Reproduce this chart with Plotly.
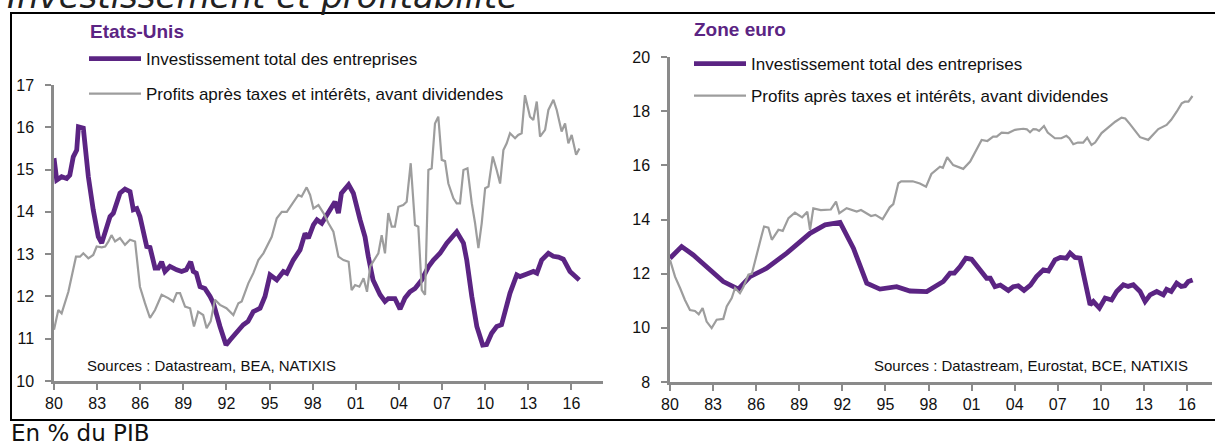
import plotly.graph_objects as go

W, H = 1215, 448

# ---------------- Data (en % du PIB) ----------------
us_inv_x = [1980.0, 1980.19, 1980.53, 1980.88, 1981.1, 1981.34, 1981.58, 1981.7, 1982.04, 1982.39,
            1982.73, 1983.08, 1983.32, 1983.67, 1983.9, 1984.13, 1984.59, 1984.94, 1985.29, 1985.52,
            1985.76, 1985.98, 1986.45, 1986.68, 1987.03, 1987.26, 1987.49, 1987.72, 1988.07, 1988.54,
            1988.88, 1989.2, 1989.51, 1989.69, 1989.9, 1990.16, 1990.5, 1990.86, 1991.09, 1991.55,
            1991.97, 1992.25, 1992.71, 1993.17, 1993.5, 1993.87, 1994.34, 1994.68, 1995.03, 1995.5,
            1995.96, 1996.2, 1996.65, 1997.12, 1997.47, 1997.7, 1998.05, 1998.3, 1998.63, 1999.21,
            1999.55, 1999.79, 2000.0, 2000.5, 2000.83, 2001.3, 2001.64, 2001.87, 2002.2, 2002.69,
            2003.03, 2003.26, 2003.72, 2004.08, 2004.42, 2004.77, 2005.12, 2005.59, 2006.05, 2006.4,
            2006.86, 2007.33, 2008.02, 2008.49, 2008.72, 2009.07, 2009.42, 2009.83, 2010.1, 2010.45,
            2010.8, 2011.14, 2011.38, 2011.73, 2012.2, 2012.43, 2012.9, 2013.36, 2013.6, 2013.93,
            2014.4, 2014.74, 2015.1, 2015.44, 2015.9, 2016.25, 2016.55]
us_inv_y = [15.27, 14.75, 14.83, 14.79, 14.87, 15.3, 15.46, 16.01, 15.98, 14.83,
            14.05, 13.41, 13.26, 13.65, 13.89, 13.97, 14.44, 14.54, 14.48, 14.05,
            14.08, 13.89, 13.18, 13.16, 12.67, 12.67, 12.82, 12.59, 12.71, 12.63,
            12.59, 12.63, 12.82, 12.59, 12.55, 12.23, 12.19, 12.0, 11.84, 11.29,
            10.85, 10.97, 11.17, 11.33, 11.41, 11.64, 11.72, 12.0, 12.51, 12.39,
            12.59, 12.55, 12.86, 13.1, 13.49, 13.38, 13.69, 13.81, 13.73, 14.08,
            14.24, 13.97, 14.44, 14.64, 14.44, 13.81, 13.41, 12.94, 12.39, 12.04,
            11.88, 11.95, 11.95, 11.70, 11.96, 12.11, 12.19, 12.39, 12.7, 12.86,
            13.02, 13.26, 13.53, 13.26, 12.86, 12.0, 11.29, 10.85, 10.86, 11.13,
            11.29, 11.33, 11.6, 12.08, 12.51, 12.47, 12.53, 12.59, 12.55, 12.86,
            13.02, 12.95, 12.93, 12.88, 12.59, 12.5, 12.39]

us_prof_x = [1980.0, 1980.3, 1980.53, 1981.0, 1981.53, 1981.81, 1982.04, 1982.39, 1982.73, 1982.97,
             1983.32, 1983.56, 1983.79, 1984.0, 1984.25, 1984.59, 1984.94, 1985.29, 1985.64, 1985.98,
             1986.33, 1986.68, 1987.03, 1987.49, 1987.95, 1988.3, 1988.54, 1988.77, 1989.12, 1989.47,
             1989.74, 1990.03, 1990.38, 1990.62, 1990.9, 1991.2, 1991.55, 1992.0, 1992.48, 1992.83,
             1993.06, 1993.52, 1993.87, 1994.22, 1994.57, 1994.8, 1995.15, 1995.5, 1995.85, 1996.2,
             1996.65, 1997.0, 1997.23, 1997.58, 1997.82, 1998.05, 1998.4, 1998.75, 1999.1, 1999.44,
             1999.79, 2000.14, 2000.5, 2000.71, 2000.95, 2001.25, 2001.54, 2001.78, 2002.0, 2002.25,
             2002.57, 2002.8, 2003.03, 2003.26, 2003.5, 2003.72, 2003.96, 2004.3, 2004.54, 2004.82,
             2005.12, 2005.35, 2005.59, 2005.82, 2006.05, 2006.28, 2006.51, 2006.74, 2006.98, 2007.21,
             2007.44, 2007.79, 2008.02, 2008.25, 2008.49, 2008.77, 2009.07, 2009.3, 2009.53, 2009.76,
             2010.0, 2010.23, 2010.53, 2010.8, 2011.04, 2011.27, 2011.5, 2011.73, 2012.08, 2012.3,
             2012.54, 2012.77, 2013.12, 2013.35, 2013.59, 2013.82, 2014.17, 2014.4, 2014.75, 2014.98,
             2015.32, 2015.56, 2015.79, 2016.02, 2016.33, 2016.56]
us_prof_y = [11.21, 11.68, 11.6, 12.11, 12.94, 12.94, 13.02, 12.9, 12.98, 13.18,
             13.16, 13.18, 13.3, 13.45, 13.3, 13.38, 13.22, 13.34, 13.3, 12.23,
             11.84, 11.49, 11.68, 12.04, 11.96, 11.88, 12.08, 12.08, 11.76, 11.72,
             11.29, 11.64, 11.56, 11.25, 11.41, 11.92, 11.8, 11.72, 11.56, 11.84,
             11.88, 12.31, 12.55, 12.86, 13.02, 13.18, 13.41, 13.85, 14.0, 14.0,
             14.24, 14.4, 14.36, 14.58, 14.4, 14.08, 14.16, 13.97, 13.73, 13.53,
             12.94, 12.86, 12.82, 12.15, 12.27, 12.23, 12.43, 12.11, 12.71, 12.86,
             13.02, 13.45, 13.02, 13.97, 13.65, 13.65, 14.12, 14.16, 14.24, 15.15,
             13.69, 13.65, 12.15, 12.04, 14.99, 15.03, 16.09, 16.25, 15.23, 15.2,
             14.67, 14.32, 14.2, 14.2, 14.99, 15.03, 14.2, 13.73, 13.14, 13.73,
             14.56, 14.6, 15.31, 14.99, 14.67, 15.46, 15.62, 15.86, 15.74, 15.82,
             15.86, 16.76, 16.25, 16.17, 16.61, 15.78, 15.94, 16.41, 16.65, 16.41,
             15.9, 16.09, 15.62, 15.82, 15.35, 15.5]

ez_inv_x = [1980.0, 1980.81, 1981.62, 1982.79, 1983.71, 1984.76, 1985.57, 1986.73, 1988.13, 1989.75,
            1990.8, 1991.84, 1992.77, 1993.7, 1994.62, 1995.78, 1996.71, 1997.88, 1999.03, 1999.5,
            1999.8, 2000.2, 2000.6, 2001.0, 2001.59, 2002.05, 2002.3, 2002.63, 2003.0, 2003.56,
            2003.9, 2004.25, 2004.65, 2005.1, 2005.52, 2006.0, 2006.35, 2006.81, 2007.18, 2007.6,
            2007.86, 2008.2, 2008.55, 2008.9, 2009.25, 2009.48, 2009.9, 2010.3, 2010.75, 2011.1,
            2011.57, 2011.9, 2012.26, 2012.73, 2013.08, 2013.43, 2013.89, 2014.35, 2014.58, 2014.9,
            2015.28, 2015.6, 2015.85, 2016.09, 2016.39]
ez_inv_y = [12.57, 13.0, 12.69, 12.14, 11.71, 11.43, 11.89, 12.2, 12.76, 13.49,
            13.8, 13.89, 12.94, 11.65, 11.43, 11.52, 11.36, 11.34, 11.71, 12.02,
            12.02, 12.26, 12.57, 12.53, 12.14, 11.83, 11.83, 11.52, 11.58, 11.38,
            11.52, 11.55, 11.38, 11.58, 11.89, 12.14, 12.1, 12.51, 12.6, 12.57,
            12.76, 12.6, 12.57, 11.71, 10.85, 10.97, 10.73, 11.1, 11.03, 11.34,
            11.59, 11.53, 11.59, 11.34, 10.97, 11.22, 11.34, 11.22, 11.42, 11.34,
            11.65, 11.53, 11.55, 11.71, 11.77]

ez_prof_x = [1980.0, 1980.35, 1980.7, 1981.04, 1981.39, 1981.74, 1982.0, 1982.27, 1982.55, 1982.9,
             1983.25, 1983.71, 1983.95, 1984.3, 1984.53, 1984.87, 1985.1, 1985.46, 1985.7, 1986.04,
             1986.39, 1986.55, 1986.85, 1987.09, 1987.55, 1987.85, 1988.25, 1988.7, 1989.2, 1989.56,
             1989.75, 1989.98, 1990.5, 1991.2, 1991.56, 1991.79, 1992.3, 1993.0, 1993.3, 1994.0,
             1994.3, 1994.8, 1995.3, 1995.55, 1995.9, 1996.1, 1996.9, 1997.4, 1997.83, 1998.2,
             1998.8, 1999.0, 1999.3, 1999.72, 2000.42, 2000.9, 2001.24, 2001.7, 2002.1, 2002.5,
             2002.75, 2003.09, 2003.55, 2004.02, 2004.6, 2004.85, 2005.07, 2005.3, 2005.5, 2005.7,
             2006.04, 2006.3, 2006.8, 2007.25, 2007.6, 2007.8, 2008.08, 2008.4, 2008.77, 2009.05,
             2009.35, 2009.6, 2010.05, 2010.5, 2011.0, 2011.44, 2011.7, 2012.0, 2012.35, 2012.73,
             2013.3, 2013.65, 2014.0, 2014.58, 2014.9, 2015.28, 2015.63, 2015.85, 2016.1, 2016.38]
ez_prof_y = [12.51, 11.89, 11.47, 11.03, 10.66, 10.62, 10.5, 10.73, 10.23, 9.99,
             10.3, 10.33, 10.79, 11.1, 11.47, 11.28, 11.5, 11.96, 12.0, 12.76,
             13.43, 13.74, 13.7, 13.25, 13.62, 13.58, 14.05, 14.25, 14.08, 14.29,
             13.62, 14.41, 14.35, 14.37, 14.66, 14.23, 14.42, 14.29, 14.35, 14.13,
             14.17, 14.01, 14.45, 14.57, 15.34, 15.41, 15.41, 15.33, 15.21, 15.68,
             15.95, 15.91, 16.3, 16.01, 15.87, 16.14, 16.5, 16.94, 16.9, 17.06,
             17.06, 17.21, 17.19, 17.31, 17.35, 17.33, 17.22, 17.34, 17.33, 17.27,
             17.45, 17.21, 17.0, 17.0, 17.09, 17.0, 16.78, 16.84, 16.84, 17.02,
             16.75, 16.84, 17.19, 17.38, 17.61, 17.76, 17.73, 17.54, 17.29, 17.04,
             16.94, 17.16, 17.34, 17.49, 17.68, 17.98, 18.29, 18.35, 18.35, 18.56]

year_ticks = [1980, 1983, 1986, 1989, 1992, 1995, 1998, 2001, 2004, 2007, 2010, 2013, 2016]
year_labels = ["80", "83", "86", "89", "92", "95", "98", "01", "04", "07", "10", "13", "16"]
us_y_ticks = [10, 11, 12, 13, 14, 15, 16, 17]
ez_y_ticks = [8, 10, 12, 14, 16, 18, 20]

name_inv = "Investissement total des entreprises"
name_prof = "Profits après taxes et intérêts, avant dividendes"

# ---------------- Styles ----------------
PURPLE = "#5b2483"
GREY = "#9d9d9d"
AXIS = "#8a8a8a"
FONT = "Liberation Sans, Arial, sans-serif"

fig = go.Figure()

fig.add_trace(go.Scatter(x=us_inv_x, y=us_inv_y, mode="lines", name=name_inv,
                         line=dict(color=PURPLE, width=4.8), xaxis="x", yaxis="y",
                         legend="legend", legendgroup="a"))
fig.add_trace(go.Scatter(x=us_prof_x, y=us_prof_y, mode="lines", name=name_prof,
                         line=dict(color=GREY, width=2.2), xaxis="x", yaxis="y",
                         legend="legend", legendgroup="b"))
fig.add_trace(go.Scatter(x=ez_inv_x, y=ez_inv_y, mode="lines", name=name_inv,
                         line=dict(color=PURPLE, width=4.8), xaxis="x2", yaxis="y2",
                         legend="legend2", legendgroup="c"))
fig.add_trace(go.Scatter(x=ez_prof_x, y=ez_prof_y, mode="lines", name=name_prof,
                         line=dict(color=GREY, width=2.2), xaxis="x2", yaxis="y2",
                         legend="legend2", legendgroup="d"))

def px_x(p):
    return p / W

def px_y(p):
    return 1 - p / H

axis_common = dict(showline=True, linecolor=AXIS, linewidth=2.5, ticks="outside",
                   ticklen=6, tickwidth=2, tickcolor=AXIS, showgrid=False, zeroline=False,
                   automargin=False,
                   tickfont=dict(family=FONT, size=16, color="#111"), fixedrange=True)

fig.update_layout(
    width=W, height=H, autosize=False,
    margin=dict(l=0, r=0, t=0, b=0, pad=0, autoexpand=False),
    paper_bgcolor="white", plot_bgcolor="white",
    font=dict(family=FONT, color="#111"),
    xaxis=dict(domain=[px_x(54), px_x(603)], range=[1980, 2018.2], anchor="y",
               tickvals=year_ticks, ticktext=year_labels, **axis_common),
    yaxis=dict(domain=[px_y(381), px_y(85)], range=[10, 17], anchor="x",
               tickvals=us_y_ticks, ticklabelstandoff=8, **axis_common),
    xaxis2=dict(domain=[px_x(670), px_x(1212)], range=[1980, 2017.74], anchor="y2",
                tickvals=year_ticks, ticktext=year_labels, **axis_common),
    yaxis2=dict(domain=[px_y(382), px_y(57)], range=[8, 20], anchor="x2",
                tickvals=ez_y_ticks, ticklabelstandoff=8, **axis_common),
    legend=dict(x=px_x(84), y=px_y(41), xanchor="left", yanchor="top",
                bgcolor="rgba(0,0,0,0)", font=dict(family=FONT, size=17, color="#111"),
                tracegroupgap=10, itemwidth=52),
    legend2=dict(x=px_x(689), y=px_y(46), xanchor="left", yanchor="top",
                 bgcolor="rgba(0,0,0,0)", font=dict(family=FONT, size=17, color="#111"),
                 tracegroupgap=7, itemwidth=52),
    showlegend=True,
)

# frame
fig.add_shape(type="rect", xref="paper", yref="paper",
              x0=px_x(11), x1=1.02, y0=px_y(420), y1=px_y(13),
              line=dict(color="black", width=2), fillcolor="rgba(0,0,0,0)", layer="below")

annotations = [
    dict(text="Etats-Unis", x=px_x(88), y=px_y(32), xanchor="left", yanchor="middle",
         font=dict(family=FONT, size=19, color=PURPLE, weight="bold")),
    dict(text="Zone euro", x=px_x(692), y=px_y(30), xanchor="left", yanchor="middle",
         font=dict(family=FONT, size=19, color=PURPLE, weight="bold")),
    dict(text="Sources : Datastream, BEA, NATIXIS", x=px_x(85), y=px_y(365),
         xanchor="left", yanchor="middle", font=dict(family=FONT, size=15, color="#111")),
    dict(text="Sources : Datastream, Eurostat, BCE, NATIXIS", x=px_x(1190), y=px_y(365),
         xanchor="right", yanchor="middle", font=dict(family=FONT, size=15, color="#111")),
    dict(text="En % du PIB", x=px_x(9), y=0, xanchor="left", yanchor="bottom",
         font=dict(family="DejaVu Sans, sans-serif", size=23, color="#111")),
    dict(text="Investissement et profitabilité", x=px_x(5), y=px_y(18), xanchor="left",
         yanchor="bottom",
         font=dict(family="DejaVu Sans, sans-serif", size=34, color="#222", style="italic")),
]
for a in annotations:
    fig.add_annotation(xref="paper", yref="paper", showarrow=False, **a)

fig.write_html("out.html", config={"displayModeBar": False},
               post_script="document.body.style.margin='0';document.body.style.overflow='hidden';")
